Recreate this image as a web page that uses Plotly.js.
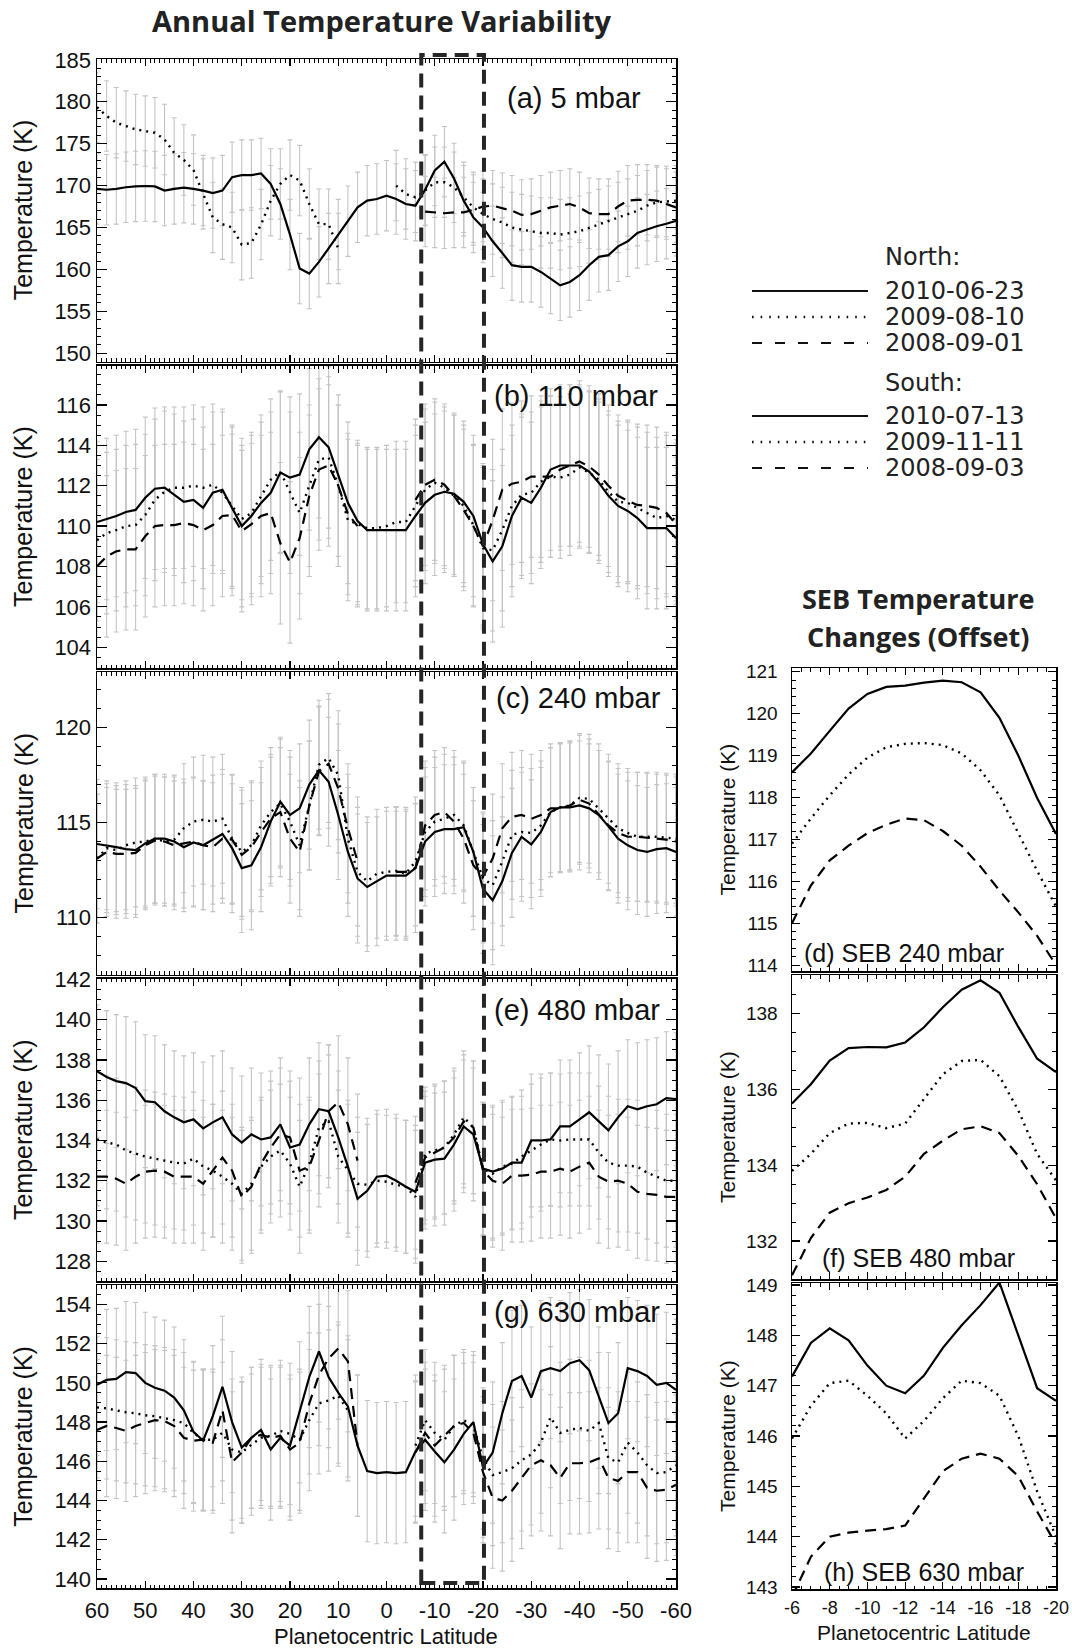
<!DOCTYPE html>
<html><head><meta charset="utf-8">
<script src="https://cdn.plot.ly/plotly-3.0.1.min.js"></script>
<style>html,body{margin:0;padding:0;background:#fff}</style>
</head><body>
<div id="chart" style="width:1072px;height:1649px"></div>
<script>
// ---------- DATA ----------
const latL = [60,58,56,54,52,50,48,46,44,42,40,38,36,34,32,30,28,26,24,22,20,18,16,14,12,10,8,6,4,2,0,-2,-4,-6,-8,-10,-12,-14,-16,-18,-20,-22,-24,-26,-28,-30,-32,-34,-36,-38,-40,-42,-44,-46,-48,-50,-52,-54,-56,-58,-60];
const latR = [-6,-7,-8,-9,-10,-11,-12,-13,-14,-15,-16,-17,-18,-19,-20];
const latTickVals = [60,50,40,30,20,10,0,-10,-20,-30,-40,-50,-60];
const latTickText = ['60','50','40','30','20','10','0','-10','-20','-30','-40','-50','-60'];
const sebTickVals = [-6,-8,-10,-12,-14,-16,-18,-20];
const sebTickText = ['-6','-8','-10','-12','-14','-16','-18','-20'];
const sebBox = [-7.2, -20.2];

// (a) 5 mbar
const a_solid = [169.6,169.5,169.6,169.8,169.9,169.95,169.9,169.4,169.6,169.75,169.6,169.4,169.1,169.4,171.0,171.25,171.25,171.45,170.2,167.8,164.15,160.1,159.5,160.9,162.5,164.15,165.75,167.4,168.2,168.4,168.8,
  168.4,167.8,167.6,169.5,171.8,172.85,170.85,168.2,166.2,165.0,163.35,161.95,160.5,160.3,160.3,159.7,158.9,158.1,158.5,159.3,160.5,161.5,161.7,162.75,163.35,164.35,164.75,165.15,165.45,165.8];
const a_dot = [179.35,178.3,177.5,177.1,176.7,176.5,176.3,175.5,173.9,173.05,171.85,169.0,166.2,165.4,165.0,162.95,163.15,165.35,168.2,170.2,171.25,170.6,167.8,165.4,165.4,162.5,null,null,null,null,null,
  170.0,169.0,168.6,169.4,170.4,170.4,169.8,168.6,167.4,166.6,166.0,165.6,165.0,164.75,164.55,164.35,164.35,164.15,164.35,164.55,164.95,165.35,165.75,166.2,166.6,167.0,167.6,168.0,168.1,168.2];
const a_dash = [null,null,null,null,null,null,null,null,null,null,null,null,null,null,null,null,null,null,null,null,null,null,null,null,null,null,null,null,null,null,null,
  null,null,null,166.9,166.8,166.7,166.8,166.8,167.1,167.5,167.6,167.3,167.0,166.5,166.6,167.0,167.4,167.6,167.8,167.4,166.7,166.6,166.6,167.5,168.2,168.3,168.3,168.2,167.8,167.4];
// (b) 110 mbar
const b_solid = [110.2,110.35,110.5,110.7,110.8,111.4,111.85,111.9,111.55,111.2,111.3,110.9,111.65,111.8,110.9,110.0,110.5,111.15,111.65,112.65,112.4,112.55,113.8,114.4,113.9,112.5,111.15,110.25,109.8,109.8,109.8,
  109.8,109.8,110.5,111.15,111.55,111.7,111.6,111.2,110.5,109.1,108.25,109.0,110.5,111.4,111.15,111.9,112.8,113.0,113.0,113.0,112.7,112.15,111.5,111.0,110.75,110.4,109.9,109.9,109.9,109.4];
const b_dot = [109.3,109.65,109.8,110.0,110.05,110.55,111.3,111.7,111.9,111.9,112.0,111.9,112.05,111.65,111.0,110.35,110.65,111.5,112.3,112.7,111.65,110.65,112.0,113.3,113.4,112.0,110.3,110.1,109.9,109.9,110.0,
  110.2,110.2,111.0,111.8,112.15,111.9,111.5,111.0,110.05,108.9,108.8,109.8,111.0,111.55,111.65,112.2,112.45,112.4,112.55,112.9,112.65,112.3,111.7,111.2,111.15,110.9,110.65,110.4,110.5,110.3];
const b_dash = [108.0,108.5,108.75,108.85,108.85,109.5,110.0,110.05,110.05,110.15,110.05,109.8,110.05,110.5,110.55,109.75,110.1,110.5,110.65,109.15,108.2,109.4,111.5,112.8,113.0,112.0,110.6,110.0,null,null,null,
  null,null,111.3,112.05,112.3,112.05,111.5,110.8,110.0,109.0,110.3,111.8,112.1,112.2,112.45,112.45,112.45,112.8,113.0,113.2,112.95,112.55,112.0,111.5,111.25,111.05,111.0,110.9,110.65,110.1];
// (c) 240 mbar
const c_solid = [113.87,113.8,113.7,113.6,113.55,113.9,114.15,114.15,114.0,113.7,113.95,113.8,114.1,114.4,113.65,112.6,112.75,113.7,115.05,116.1,115.4,115.75,117.0,117.75,117.15,115.4,113.45,112.05,111.6,111.9,112.2,
  112.2,112.2,112.6,114.0,114.5,114.65,114.65,114.75,113.45,111.5,110.9,111.9,113.4,114.25,113.85,114.5,115.55,115.8,115.8,115.9,115.75,115.4,114.8,114.15,113.8,113.55,113.45,113.6,113.65,113.45];
const c_dot = [113.1,113.65,113.55,113.8,113.95,114.0,114.15,114.0,114.1,114.7,115.05,115.15,115.05,115.2,114.15,113.45,113.8,114.85,115.55,116.0,115.05,113.8,115.9,118.05,118.4,117.5,114.15,112.4,111.9,112.3,112.4,
  112.45,112.3,112.95,114.5,115.05,115.2,115.4,114.85,113.45,112.05,111.7,112.95,114.35,114.5,114.45,114.85,115.55,115.8,115.9,116.3,116.25,115.75,115.2,114.7,114.45,114.25,114.25,114.25,114.2,114.15];
const c_dash = [113.1,113.45,113.35,113.35,113.4,113.8,114.05,114.0,113.8,113.9,114.0,113.8,113.7,114.15,114.1,113.3,113.7,114.5,115.2,115.55,114.15,113.45,115.9,117.7,118.1,116.8,114.7,112.95,null,null,null,
  112.4,112.4,112.6,114.85,115.4,115.55,115.05,114.15,112.75,112.15,113.1,114.7,115.3,115.4,115.2,115.4,115.75,115.75,115.9,116.2,116.0,115.4,114.85,114.45,114.25,114.25,114.2,114.15,114.1,114.0];
// (e) 480 mbar
const e_solid = [137.44,137.15,136.95,136.85,136.6,135.95,135.9,135.45,135.15,134.9,135.05,134.6,134.9,135.15,134.3,133.9,134.3,134.05,134.15,134.8,133.65,133.8,134.8,135.55,135.45,134.15,132.7,131.1,131.5,132.2,132.25,
  132.0,131.7,131.45,132.9,133.05,133.1,133.8,134.7,134.3,132.6,132.45,132.6,132.9,132.9,134.0,134.0,134.05,134.7,134.7,135.05,135.4,134.95,134.5,135.15,135.7,135.55,135.7,135.8,136.1,136.05];
const e_dot = [134.05,133.9,133.8,133.5,133.35,133.2,133.1,133.0,132.9,132.85,133.1,132.7,132.5,132.2,131.85,131.35,131.85,132.7,133.2,133.5,132.85,131.7,132.85,134.65,134.95,133.2,132.5,131.85,131.8,132.0,131.95,
  131.8,131.7,131.2,133.35,133.5,133.65,134.3,135.15,134.65,132.6,132.35,132.7,132.85,133.2,133.5,133.8,134.05,134.0,134.05,134.05,134.05,133.4,132.9,132.75,132.75,132.7,132.4,132.2,132.0,132.0];
const e_dash = [132.2,132.2,132.1,131.85,132.2,132.45,132.5,132.45,132.2,132.2,132.2,131.85,132.5,133.15,132.5,131.2,131.7,132.85,133.65,134.3,134.15,132.5,132.7,134.0,135.45,135.9,134.8,133.0,null,null,null,
  null,null,131.9,133.15,133.4,133.65,134.15,134.95,134.65,132.5,132.0,131.85,132.25,132.25,132.3,132.45,132.45,132.6,132.45,132.7,132.9,132.2,131.95,132.0,131.85,131.45,131.35,131.3,131.2,131.2];
// (g) 630 mbar
const g_solid = [149.9,150.15,150.2,150.55,150.5,150.0,149.75,149.6,149.25,148.6,147.5,147.05,148.3,149.8,148.0,146.7,147.2,147.6,146.6,147.2,146.8,148.5,150.3,151.6,150.3,149.5,148.8,146.8,145.5,145.4,145.45,
  145.4,145.45,146.5,147.1,146.5,145.95,146.6,147.4,148.0,145.7,146.45,148.45,150.1,150.35,149.25,150.6,150.75,150.6,151.0,151.15,150.65,149.25,147.95,148.45,150.75,150.6,150.35,149.9,150.0,149.65];
const g_dot = [148.75,148.7,148.6,148.5,148.45,148.35,148.3,148.2,148.1,147.95,147.45,147.1,147.1,147.45,146.6,146.45,146.85,147.2,147.3,147.55,147.4,147.1,148.1,148.95,149.1,149.35,148.6,null,null,null,null,
  null,null,146.8,148.1,147.45,147.1,147.8,148.1,147.8,146.15,145.3,145.45,145.65,146.05,146.35,146.95,148.25,147.45,147.6,147.7,147.55,147.95,146.15,145.95,146.95,146.45,145.8,145.4,145.45,145.8];
const g_dash = [147.6,147.8,147.7,147.55,147.8,147.95,148.1,148.05,147.8,147.2,147.05,147.1,146.95,148.6,145.95,146.45,147.2,147.35,147.2,147.3,146.6,146.95,148.95,150.4,151.25,151.75,151.1,146.8,null,null,null,
  null,null,146.45,147.45,146.8,147.3,147.8,147.95,147.45,145.45,144.15,144.0,144.5,145.15,145.8,146.05,145.8,145.15,145.9,145.9,145.95,146.15,145.15,145.0,145.45,145.45,144.65,144.5,144.55,144.8];
const errA = 4.2, errB = 4.0, errC = 3.4, errE = 3.3, errG = 3.6;

// SEB panels
const d_solid = [118.6,119.05,119.59,120.12,120.47,120.64,120.67,120.74,120.79,120.75,120.51,119.9,119.0,117.99,117.13];
const d_dot   = [116.9,117.5,118.05,118.55,118.95,119.2,119.28,119.3,119.25,119.05,118.65,118.05,117.15,116.25,115.4];
const d_dash  = [115.0,115.9,116.5,116.85,117.15,117.35,117.5,117.46,117.2,116.85,116.35,115.78,115.26,114.7,114.0];
const f_solid = [135.63,136.14,136.76,137.09,137.12,137.11,137.24,137.64,138.17,138.63,138.88,138.55,137.65,136.81,136.46];
const f_dot   = [133.85,134.3,134.85,135.1,135.12,134.98,135.1,135.75,136.4,136.75,136.78,136.35,135.45,134.3,133.6];
const f_dash  = [131.1,132.08,132.75,133.0,133.15,133.35,133.7,134.3,134.65,134.95,135.03,134.85,134.25,133.5,132.6];
const h_solid = [147.18,147.85,148.14,147.9,147.4,147.0,146.85,147.2,147.75,148.2,148.6,149.05,148.0,146.95,146.7];
const h_dot   = [145.95,146.6,147.05,147.1,146.8,146.45,145.95,146.3,146.75,147.1,147.05,146.8,146.0,144.9,144.0];
const h_dash  = [142.8,143.6,144.0,144.08,144.12,144.15,144.22,144.75,145.3,145.55,145.65,145.55,145.2,144.5,143.85];

const legendNorth = ['2010-06-23','2009-08-10','2008-09-01'];
const legendSouth = ['2010-07-13','2009-11-11','2008-09-03'];

// ---------- LAYOUT HELPERS ----------
const W = 1072, H = 1649;
const fx = p => p / W;
const fy = p => 1 - p / H;
const helv = 'Liberation Sans, Arial, Helvetica, sans-serif';
const myr = 'Open Sans, Noto Sans, sans-serif';
const legFont = 'DejaVu Sans, Open Sans, sans-serif';
const DASH_SOLID = 'solid', DASH_DOT = '2px,5px', DASH_DASH = '11px,7px';

const traces = [];
function panel(ax, xs, series, err) {
  const xa = 'x' + (ax === 1 ? '' : ax), ya = 'y' + (ax === 1 ? '' : ax);
  if (err !== null) {
    series.forEach(s => traces.push({
      x: xs, y: s, xaxis: xa, yaxis: ya, type: 'scatter', mode: 'markers',
      marker: {size: 1, color: 'rgba(0,0,0,0)'}, showlegend: false, hoverinfo: 'skip',
      error_y: {type: 'constant', value: err, color: '#c4c4c4', thickness: 1.1, width: 2.5}
    }));
  }
  const dashes = [DASH_SOLID, DASH_DOT, DASH_DASH];
  const widths = [2.2, 2.4, 2.2];
  series.forEach((s, i) => traces.push({
    x: xs, y: s, xaxis: xa, yaxis: ya, type: 'scatter', mode: 'lines',
    line: {color: '#000', width: widths[i], dash: dashes[i]}, showlegend: false, hoverinfo: 'skip'
  }));
}
panel(1, latL, [a_solid, a_dot, a_dash], errA);
panel(2, latL, [b_solid, b_dot, b_dash], errB);
panel(3, latL, [c_solid, c_dot, c_dash], errC);
panel(4, latL, [e_solid, e_dot, e_dash], errE);
panel(5, latL, [g_solid, g_dot, g_dash], errG);
panel(6, latR, [d_solid, d_dot, d_dash], null);
panel(7, latR, [f_solid, f_dot, f_dash], null);
panel(8, latR, [h_solid, h_dot, h_dash], null);

const layout = {
  width: W, height: H, margin: {l: 0, r: 0, t: 0, b: 0}, autosize: false,
  paper_bgcolor: '#fff', plot_bgcolor: '#fff', showlegend: false,
  font: {family: helv, color: '#111'},
  annotations: [], shapes: []
};

const leftY = [[59, 361.6], [365.6, 668.2], [672.2, 974.8], [978.8, 1281.4], [1285.4, 1588]];
const leftRanges = [[149.0, 185.1], [102.96, 117.95], [106.97, 122.93], [127.0, 142.03], [139.54, 154.97]];
const leftDt = [5, 2, 5, 2, 2];
const leftMinor = [1, 0.5, 1, 0.5, 0.5];
const rightY = [[668, 971], [975, 1279], [1283, 1589]];
const rightRanges = [[113.86, 121.09], [131.0, 139.02], [142.96, 149.04]];
const rightDt = [1, 2, 1];
const rightMinor = [0.2, 0.5, 0.2];

function xaxisDef(dom, range, anchor, minor, showLab, vals, text, fsize) {
  return {
    domain: dom, range: range, anchor: anchor, showgrid: false, zeroline: false,
    showline: true, linecolor: '#000', linewidth: 1.5, mirror: 'allticks',
    ticks: 'inside', ticklen: 7, tickwidth: 1.2, tickcolor: '#000',
    tickvals: vals, ticktext: text,
    minor: {dtick: minor, ticks: 'inside', ticklen: 3.5, tickwidth: 1, tickcolor: '#000', showgrid: false},
    showticklabels: showLab, tickfont: {family: helv, size: fsize, color: '#111'}, ticklabelstandoff: 2
  };
}
function yaxisDef(dom, range, anchor, dtick, minor, fsize, tl, standoff) {
  return {
    domain: dom, range: range, anchor: anchor, showgrid: false, zeroline: false,
    showline: true, linecolor: '#000', linewidth: 1.5, mirror: 'allticks',
    ticks: 'inside', ticklen: tl, tickwidth: 1.2, tickcolor: '#000', dtick: dtick, tick0: 0,
    minor: {dtick: minor, ticks: 'inside', ticklen: 4, tickwidth: 1, tickcolor: '#000', showgrid: false},
    tickfont: {family: helv, size: fsize, color: '#111'}, ticklabelstandoff: standoff
  };
}
for (let i = 0; i < 5; i++) {
  const n = i + 1, sfx = n === 1 ? '' : n;
  const dy = [fy(leftY[i][1]), fy(leftY[i][0])];
  layout['xaxis' + sfx] = xaxisDef([fx(97), fx(676)], [60, -60], 'y' + sfx, 1, n === 5, latTickVals, latTickText, 22);
  layout['yaxis' + sfx] = yaxisDef(dy, leftRanges[i], 'x' + sfx, leftDt[i], leftMinor[i], 22, 10, 0);
}
for (let i = 0; i < 3; i++) {
  const n = i + 6;
  const dy = [fy(rightY[i][1]), fy(rightY[i][0])];
  layout['xaxis' + n] = xaxisDef([fx(792), fx(1056)], [-6, -20], 'y' + n, 0.5, n === 8, sebTickVals, sebTickText, 18);
  layout['yaxis' + n] = yaxisDef(dy, rightRanges[i], 'x' + n, rightDt[i], rightMinor[i], 19, 8, 9);
}

const A = layout.annotations, S = layout.shapes;
function txt(t, x, y, size, opts) {
  A.push(Object.assign({text: t, x: fx(x), y: fy(y), xref: 'paper', yref: 'paper', showarrow: false,
    font: {family: helv, size: size, color: '#111'}, xanchor: 'center', yanchor: 'middle'}, opts || {}));
}
// titles
txt('<b>Annual Temperature Variability</b>', 382, 21, 29, {font: {family: myr, size: 29, color: '#222'}});
txt('<b>SEB Temperature</b>', 918, 598, 27, {font: {family: myr, size: 27, color: '#222'}});
txt('<b>Changes (Offset)</b>', 918, 637, 27, {font: {family: myr, size: 27, color: '#222'}});
// y titles
leftY.forEach(r => txt('Temperature (K)', 23, (r[0] + r[1]) / 2, 25, {textangle: -90}));
rightY.forEach(r => txt('Temperature (K)', 727, (r[0] + r[1]) / 2, 21, {textangle: -90}));
// x titles
txt('Planetocentric Latitude', 386, 1636, 22);
txt('Planetocentric Latitude', 924, 1632, 21);
// panel labels
const leftLab = ['(a) 5 mbar', '(b) 110 mbar', '(c) 240 mbar', '(e) 480 mbar', '(g) 630 mbar'];
const leftLabY = [98, 396, 698, 1010, 1312];
const leftLabX = [505, 492, 494, 492, 492];
leftLab.forEach((t, i) => txt(t, leftLabX[i], leftLabY[i], 29, {xanchor: 'left'}));
const rightLab = ['(d) SEB 240 mbar', '(f) SEB 480 mbar', '(h) SEB 630 mbar'];
const rightLabY = [953, 1258, 1572];
const rightLabX = [802, 820, 822];
rightLab.forEach((t, i) => txt(t, rightLabX[i], rightLabY[i], 25, {xanchor: 'left'}));

// legend
const legDash = ['solid', '1.6px,7px', '10px,13px'];
const legSize = 24;
txt('North:', 883, 257, legSize, {xanchor: 'left', font: {family: legFont, size: legSize, color: '#222'}});
txt('South:', 883, 383, legSize, {xanchor: 'left', font: {family: legFont, size: legSize, color: '#222'}});
const rowN = [291, 317, 343], rowS = [416, 442, 468];
legendNorth.forEach((t, i) => {
  txt(t, 883, rowN[i], legSize, {xanchor: 'left', font: {family: legFont, size: legSize, color: '#222'}});
  S.push({type: 'line', xref: 'paper', yref: 'paper', x0: fx(752), x1: fx(868), y0: fy(rowN[i]), y1: fy(rowN[i]),
    line: {color: '#111', width: i === 1 ? 2.4 : 2.2, dash: legDash[i]}});
});
legendSouth.forEach((t, i) => {
  txt(t, 883, rowS[i], legSize, {xanchor: 'left', font: {family: legFont, size: legSize, color: '#222'}});
  S.push({type: 'line', xref: 'paper', yref: 'paper', x0: fx(752), x1: fx(868), y0: fy(rowS[i]), y1: fy(rowS[i]),
    line: {color: '#111', width: i === 1 ? 2.4 : 2.2, dash: legDash[i]}});
});

// SEB box across the left panels
S.push({type: 'rect', xref: 'x', yref: 'paper', x0: sebBox[0], x1: sebBox[1], y0: fy(1583), y1: fy(55),
  line: {color: '#262626', width: 4, dash: '14px,8px'}, fillcolor: 'rgba(0,0,0,0)', layer: 'above'});

Plotly.newPlot('chart', traces, layout, {staticPlot: true, displayModeBar: false});
</script>
</body></html>
